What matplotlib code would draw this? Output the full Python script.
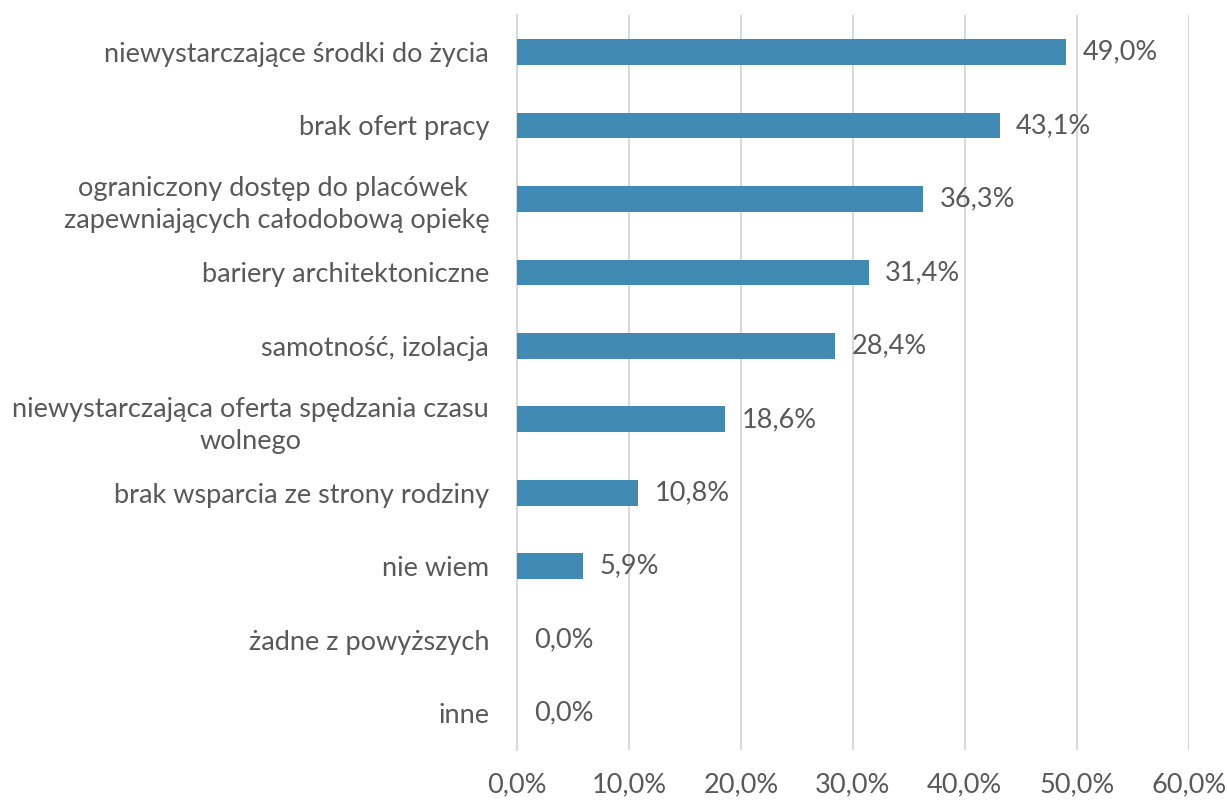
import matplotlib
matplotlib.use("Agg")
import matplotlib.pyplot as plt
from matplotlib.ticker import FuncFormatter

categories = [
    "niewystarczające środki do życia",
    "brak ofert pracy",
    "ograniczony dostęp do placówek \nzapewniających całodobową opiekę",
    "bariery architektoniczne",
    "samotność, izolacja",
    "niewystarczająca oferta spędzania czasu\nwolnego",
    "brak wsparcia ze strony rodziny",
    "nie wiem",
    "żadne z powyższych",
    "inne",
]
values = [49.0, 43.1, 36.3, 31.4, 28.4, 18.6, 10.8, 5.9, 0.0, 0.0]
xticks = [0, 10, 20, 30, 40, 50, 60]

plt.rcParams['font.family'] = ['Lato', 'DejaVu Sans']
text_color = "#595959"
bar_color = "#418AB3"
grid_color = "#D9D9D9"
fs = 19.5

fig = plt.figure(figsize=(12.28, 8), dpi=100)
ax = fig.add_axes([0.421, 0.0625, 0.547, 0.9185])

y = list(range(len(categories)))
ax.barh(y, values, height=0.35, color=bar_color, zorder=3)
ax.set_ylim(len(categories) - 0.5, -0.5)
ax.set_xlim(0, 60)
ax.set_xticks(xticks)
ax.xaxis.set_major_formatter(FuncFormatter(lambda v, p: f"{v:.1f}%".replace(".", ",")))
ax.set_yticks(y)
ax.set_yticklabels(categories, ha="right", multialignment="center", linespacing=1.35)
ax.tick_params(axis="y", length=0, pad=20, labelsize=fs, labelcolor=text_color)
ax.tick_params(axis="x", length=0, pad=16, labelsize=fs, labelcolor=text_color)
ax.grid(axis="x", color=grid_color, linewidth=1.5, zorder=0)
for s in ["top", "right", "bottom"]:
    ax.spines[s].set_visible(False)
ax.spines["left"].set_color(grid_color)
ax.spines["left"].set_linewidth(1.5)

for yi, v in zip(y, values):
    ax.annotate(f"{v:.1f}%".replace(".", ","), xy=(v, yi), xytext=(12, 0),
                textcoords="offset points", va="center", ha="left",
                fontsize=fs, color=text_color)

fig.savefig("out.png", dpi=100)
